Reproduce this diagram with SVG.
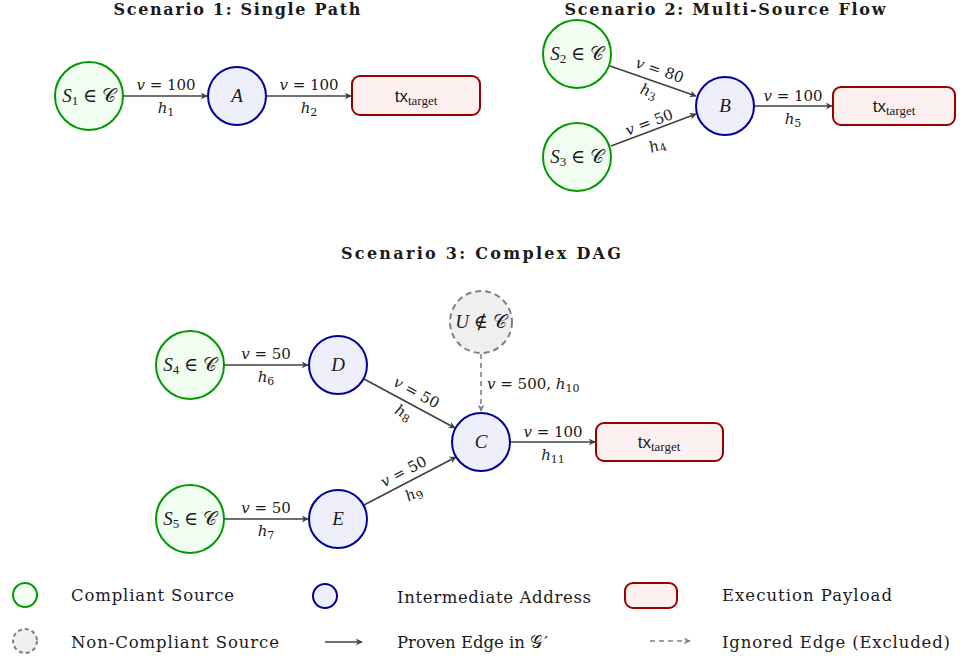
<svg xmlns="http://www.w3.org/2000/svg" width="963" height="659" viewBox="0 0 963 659">
<style>
text{font-family:"Liberation Serif","DejaVu Serif",serif;fill:#1a1a1a}
.title{font-family:"DejaVu Serif",serif;font-size:16px;font-weight:bold;text-anchor:middle}
.nl{font-size:19px;text-anchor:middle}
.el{font-family:"DejaVu Serif",serif;font-size:15px;text-anchor:middle}
.lg{font-family:"DejaVu Serif",serif;font-size:16.5px}
.i{font-style:italic}
.cal{font-family:"DejaVu Sans","Noto Sans",serif;font-style:normal}
.sub{font-size:11px}
.nsub{font-size:13px}
.src{fill:#f2fdf2;stroke:#009900;stroke-width:2}
.mid{fill:#efeffc;stroke:#000099;stroke-width:2}
.tx{fill:#fdf0f0;stroke:#990000;stroke-width:2}
.unc{fill:#efefef;stroke:#808080;stroke-width:2;stroke-dasharray:6 4}
.e{stroke:#404040;stroke-width:1.6;fill:none;marker-end:url(#ah)}
.ed{stroke:#808080;stroke-width:1.6;fill:none;stroke-dasharray:5 4;marker-end:url(#ahg)}
.txt{font-family:"Liberation Sans","DejaVu Sans",sans-serif;font-size:17px}
</style>
<defs>
<marker id="ah" viewBox="0 0 10 10" refX="9" refY="5" markerWidth="7" markerHeight="7" orient="auto" markerUnits="userSpaceOnUse">
<path d="M0,0 L10,5 L0,10 L3,5 z" fill="#404040"/>
</marker>
<marker id="ahg" viewBox="0 0 10 10" refX="9" refY="5" markerWidth="7" markerHeight="7" orient="auto" markerUnits="userSpaceOnUse">
<path d="M0,0 L10,5 L0,10 L3,5 z" fill="#808080"/>
</marker>
</defs>

<text class="title" x="237" y="15" textLength="247">Scenario 1: Single Path</text>
<text class="title" x="725" y="15" textLength="321">Scenario 2: Multi-Source Flow</text>
<text class="title" x="481" y="259" textLength="280">Scenario 3: Complex DAG</text>

<g id="connectors">
<line class="e" x1="123" y1="96" x2="207" y2="96"/>
<line class="e" x1="266" y1="96" x2="351" y2="96"/>
<line class="e" x1="610" y1="66" x2="696" y2="96"/>
<line class="e" x1="611" y1="146" x2="696" y2="114"/>
<line class="e" x1="754" y1="106" x2="832" y2="106"/>
<line class="e" x1="224" y1="365" x2="308" y2="365"/>
<line class="e" x1="224" y1="519" x2="308" y2="519"/>
<line class="e" x1="364" y1="379" x2="455" y2="428"/>
<line class="e" x1="364" y1="505" x2="456" y2="457"/>
<line class="ed" x1="481" y1="354" x2="481" y2="411"/>
<line class="e" x1="510" y1="442" x2="595" y2="442"/>

<text class="el" x="166" y="90"><tspan class="i">v</tspan> = 100</text>
<text class="el" x="166" y="113"><tspan class="i">h</tspan><tspan class="sub" dy="3">1</tspan></text>
<text class="el" x="309" y="90"><tspan class="i">v</tspan> = 100</text>
<text class="el" x="309" y="113"><tspan class="i">h</tspan><tspan class="sub" dy="3">2</tspan></text>

<text class="el" transform="translate(658,75) rotate(19)"><tspan class="i">v</tspan> = 80</text>
<text class="el" transform="translate(647,96) rotate(19)"><tspan class="i">h</tspan><tspan class="sub" dy="3">3</tspan></text>
<text class="el" transform="translate(651,127) rotate(-20.5)"><tspan class="i">v</tspan> = 50</text>
<text class="el" transform="translate(659,150) rotate(-20.5)"><tspan class="i">h</tspan><tspan class="sub" dy="3">4</tspan></text>
<text class="el" x="793" y="101"><tspan class="i">v</tspan> = 100</text>
<text class="el" x="793" y="124"><tspan class="i">h</tspan><tspan class="sub" dy="3">5</tspan></text>

<text class="el" x="266" y="359"><tspan class="i">v</tspan> = 50</text>
<text class="el" x="266" y="382"><tspan class="i">h</tspan><tspan class="sub" dy="3">6</tspan></text>
<text class="el" x="266" y="513"><tspan class="i">v</tspan> = 50</text>
<text class="el" x="266" y="536"><tspan class="i">h</tspan><tspan class="sub" dy="3">7</tspan></text>
<text class="el" transform="translate(414,397) rotate(28.3)"><tspan class="i">v</tspan> = 50</text>
<text class="el" transform="translate(401,417) rotate(28.3)"><tspan class="i">h</tspan><tspan class="sub" dy="3">8</tspan></text>
<text class="el" transform="translate(406,476) rotate(-27.6)"><tspan class="i">v</tspan> = 50</text>
<text class="el" transform="translate(416,498) rotate(-27.6)"><tspan class="i">h</tspan><tspan class="sub" dy="3">9</tspan></text>
<text class="el" x="487" y="389" style="text-anchor:start"><tspan class="i">v</tspan> = 500, <tspan class="i">h</tspan><tspan class="sub" dy="3">10</tspan></text>
<text class="el" x="553" y="437"><tspan class="i">v</tspan> = 100</text>
<text class="el" x="553" y="460"><tspan class="i">h</tspan><tspan class="sub" dy="3">11</tspan></text>
</g>

<g id="S1"><circle class="src" cx="89" cy="96" r="34"/><text class="nl" x="89" y="102"><tspan class="i">S</tspan><tspan class="nsub" dy="3">1</tspan><tspan dy="-3"> ∈ </tspan><tspan class="cal i">𝒞</tspan></text></g>
<g id="A"><circle class="mid" cx="237" cy="96" r="29"/><text class="nl i" x="237" y="102">A</text></g>
<g id="tx1"><rect class="tx" x="352" y="76" width="128" height="39" rx="8"/><text x="416" y="102" style="text-anchor:middle"><tspan class="txt">tx</tspan><tspan font-size="13" dy="3">target</tspan></text></g>

<g id="S2"><circle class="src" cx="577" cy="54" r="34"/><text class="nl" x="577" y="60"><tspan class="i">S</tspan><tspan class="nsub" dy="3">2</tspan><tspan dy="-3"> ∈ </tspan><tspan class="cal i">𝒞</tspan></text></g>
<g id="S3"><circle class="src" cx="577" cy="157" r="34"/><text class="nl" x="577" y="163"><tspan class="i">S</tspan><tspan class="nsub" dy="3">3</tspan><tspan dy="-3"> ∈ </tspan><tspan class="cal i">𝒞</tspan></text></g>
<g id="B"><circle class="mid" cx="725" cy="106" r="29"/><text class="nl i" x="725" y="112">B</text></g>
<g id="tx2"><rect class="tx" x="833" y="87" width="122" height="38" rx="8"/><text x="894" y="112" style="text-anchor:middle"><tspan class="txt">tx</tspan><tspan font-size="13" dy="3">target</tspan></text></g>

<g id="S4"><circle class="src" cx="190" cy="365" r="34"/><text class="nl" x="190" y="371"><tspan class="i">S</tspan><tspan class="nsub" dy="3">4</tspan><tspan dy="-3"> ∈ </tspan><tspan class="cal i">𝒞</tspan></text></g>
<g id="S5"><circle class="src" cx="190" cy="519" r="34"/><text class="nl" x="190" y="525"><tspan class="i">S</tspan><tspan class="nsub" dy="3">5</tspan><tspan dy="-3"> ∈ </tspan><tspan class="cal i">𝒞</tspan></text></g>
<g id="D"><circle class="mid" cx="338" cy="365" r="29"/><text class="nl i" x="338" y="371">D</text></g>
<g id="E"><circle class="mid" cx="338" cy="519" r="29"/><text class="nl i" x="338" y="525">E</text></g>
<g id="U"><circle class="unc" cx="481" cy="322" r="31"/><text class="nl" x="481" y="328"><tspan class="i">U</tspan> ∉ <tspan class="cal i">𝒞</tspan></text></g>
<g id="C"><circle class="mid" cx="481" cy="442" r="29"/><text class="nl i" x="481" y="448">C</text></g>
<g id="tx3"><rect class="tx" x="596" y="423" width="127" height="38" rx="8"/><text x="659" y="448" style="text-anchor:middle"><tspan class="txt">tx</tspan><tspan font-size="13" dy="3">target</tspan></text></g>

<g id="legend">
<circle class="src" cx="25" cy="595" r="12"/>
<text class="lg" x="71" y="601" textLength="163">Compliant Source</text>
<circle class="mid" cx="325" cy="596" r="12"/>
<text class="lg" x="397" y="603" textLength="194">Intermediate Address</text>
<rect class="tx" x="625" y="583" width="52" height="25" rx="8"/>
<text class="lg" x="722" y="601" textLength="170">Execution Payload</text>
<circle class="unc" cx="25" cy="641" r="12" style="stroke-dasharray:4 3"/>
<text class="lg" x="71" y="648" textLength="208">Non-Compliant Source</text>
<line class="e" x1="325" y1="642" x2="362" y2="642"/>
<text class="lg" x="397" y="648">Proven Edge in <tspan class="cal i">𝒢</tspan><tspan dx="2">′</tspan></text>
<line class="ed" x1="650" y1="641" x2="690" y2="641"/>
<text class="lg" x="722" y="648" textLength="228">Ignored Edge (Excluded)</text>
</g>
</svg>
